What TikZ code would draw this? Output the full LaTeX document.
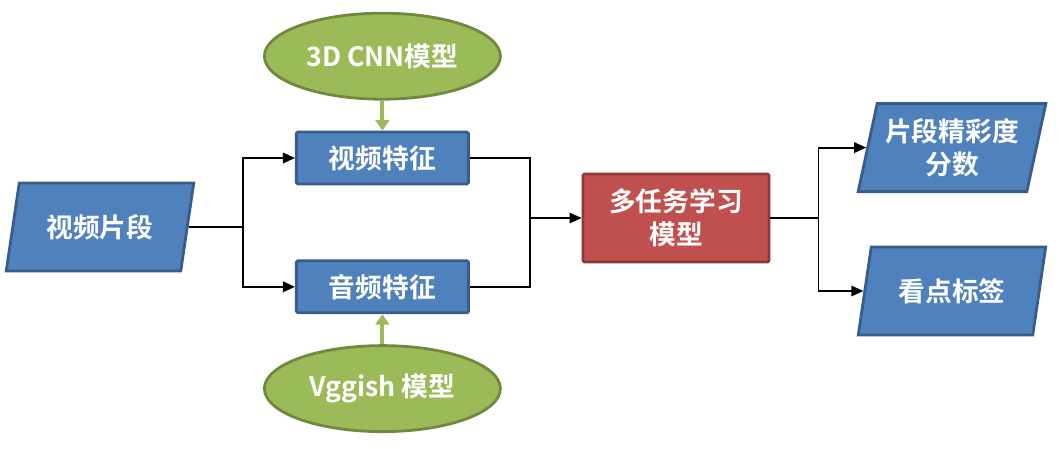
\documentclass[tikz,border=0pt]{standalone}
\usepackage{fontspec}
\setmainfont{Noto Sans CJK SC}[BoldFont={Noto Sans CJK SC Bold}]
\usetikzlibrary{arrows.meta, positioning, shapes.geometric}
\definecolor{boxblue}{HTML}{4F81BD}
\definecolor{boxblueline}{HTML}{385D8A}
\definecolor{modelgreen}{HTML}{9BBB59}
\definecolor{modelgreenline}{HTML}{71893F}
\definecolor{taskred}{HTML}{C0504D}
\definecolor{taskredline}{HTML}{8C3836}

\begin{document}
\begin{tikzpicture}[
    >={Triangle[length=0.3cm, width=0.26cm]},
    line width=1.3pt,
    txt/.style={text=white, align=center, font=\fontsize{19}{23.5}\selectfont\bfseries},
    feat/.style={txt, draw=boxblueline, fill=boxblue, line width=2pt, rectangle, rounded corners=1pt, minimum width=4.3cm, minimum height=1.3cm},
    io/.style={txt, draw=boxblueline, fill=boxblue, line width=2pt, trapezium, trapezium left angle=75, trapezium right angle=105, trapezium stretches=true, minimum width=4.7cm, minimum height=2.2cm},
    model/.style={txt, draw=modelgreenline, fill=modelgreen, line width=2pt, ellipse, minimum width=5.9cm, minimum height=2.15cm},
    task/.style={txt, draw=taskredline, fill=taskred, line width=2pt, rectangle, rounded corners=1pt, minimum width=4.65cm, minimum height=2.2cm},
    feed/.style={draw=modelgreen, line width=2.8pt, -{Triangle[length=0.26cm, width=0.34cm]}}
]
\useasboundingbox (0,0) rectangle (26.5,-11.2);

% input clip
\node[io] (clip) at (2.5,-5.675) {视频片段};

% feature boxes and the models that feed them
\node[feat] (vfeat) at (9.56,-3.95) {视频特征};
\node[feat, below=1.85cm of vfeat] (afeat) {音频特征};
\node[model, above=0.75cm of vfeat] (cnn) {3D CNN模型};
\node[model, below=0.75cm of afeat] (vgg) {Vggish 模型};

% multi-task model
\node[task] (mtl) at (16.9,-5.45) {多任务学习\\模型};

% outputs
\node[io] (score) at (23.8,-3.69) {片段精彩度\\分数};
\node[io] (tag) at (23.8,-7.275) {看点标签};

% branch points
\coordinate[right=1.35cm of clip] (split);
\coordinate[left=1.3cm of mtl] (join);
\coordinate[right=1.2cm of mtl] (fork);

% arrows
\draw[->] (clip.east) -- (split) |- (vfeat.west);
\draw[->] (split) |- (afeat.west);
\draw (vfeat.east) -| (join) |- (afeat.east);
\draw[->] (join) -- (mtl.west);
\draw (mtl.east) -- (fork);
\draw[->] (fork) |- (score.west);
\draw[->] (fork) |- (tag.west);
\draw[feed] (cnn) -- (vfeat);
\draw[feed] (vgg) -- (afeat);

\end{tikzpicture}
\end{document}
